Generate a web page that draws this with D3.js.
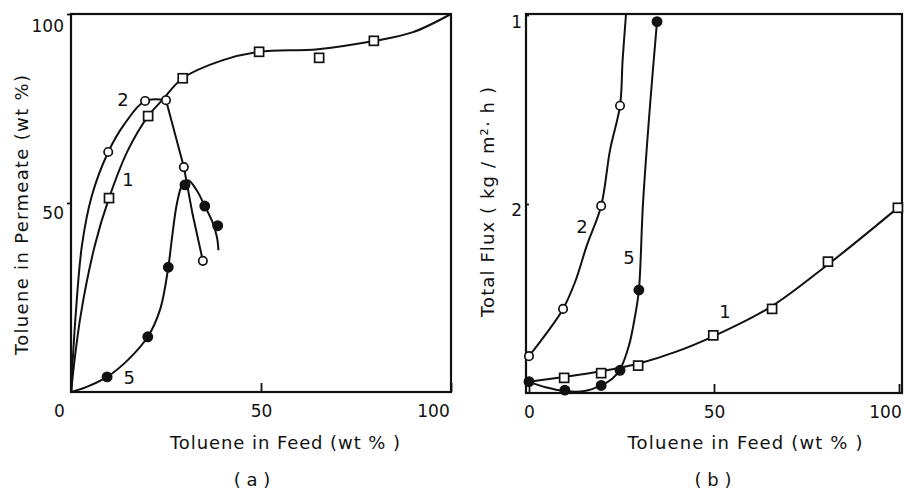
<!DOCTYPE html>
<html>
<head>
<meta charset="utf-8">
<script src="https://cdn.jsdelivr.net/npm/d3@7"></script>
<style>
  body { margin: 0; background: #fff; }
  text { font-family: "DejaVu Sans", sans-serif; fill: #111; }
</style>
</head>
<body>
<script>
var w = 904;
var h = 490;

// ---- panel (a): toluene in permeate vs toluene in feed ----
// measured points
const aFeed1 = [10, 20.3, 29.4, 49.5, 65.3, 79.7];
const aPerm1 = [51.3, 73, 83, 90, 88.4, 92.9];
const aFeed2 = [9.8, 19.5, 25, 29.7, 34.7];
const aPerm2 = [63.5, 77, 77.2, 59.5, 34.7];
const aFeed5 = [9.5, 20.2, 25.6, 30, 35.2, 38.6];
const aPerm5 = [4, 14.6, 33, 54.8, 49.2, 44];

// drawn curves
const aLine1 = [[0, 0], [2.5, 20], [6.3, 38.9], [10, 51.3], [15, 64], [20.3, 73], [24, 77.2],
                [29.4, 83], [40, 87.8], [49.5, 90], [65, 90.7], [80, 92.9], [90, 95.2], [100, 100]];
const aLine2Rise = [[0, 0], [1.2, 20], [2.9, 38.9], [5.5, 52], [9.8, 63.5], [14, 70.8], [19.5, 77], [25, 77.2]];
const aLine2Fall = [[25, 77.2], [29.7, 59.5], [32, 47], [34.7, 34.7]];
const aLine5 = [[0, 0], [4, 1.3], [9.5, 4], [15, 8.5], [20.2, 14.6], [23.5, 22], [25.6, 33],
                [26.6, 41], [27.9, 50], [29.2, 54.6], [30.8, 56], [33, 53.5], [35.2, 49.2],
                [37.2, 45], [38.4, 41], [38.8, 37.5]];

// ---- panel (b): total flux vs toluene in feed ----
const bFeed1 = [9.5, 19.5, 29.5, 49.8, 65.7, 80.8, 99.7];
const bFlux1 = [0.16, 0.21, 0.29, 0.61, 0.89, 1.39, 1.96];
const bFeed2 = [0, 9.2, 19.5, 24.6];
const bFlux2 = [0.39, 0.89, 1.98, 3.04];
const bFeed5 = [0, 9.7, 19.5, 24.6, 29.7, 34.6];
const bFlux5 = [0.12, 0.03, 0.08, 0.24, 1.09, 3.93];

const bLine1 = [[0, 0.12], [9.5, 0.17], [19.5, 0.23], [29.5, 0.31], [40, 0.44], [49.8, 0.6],
                [65.7, 0.92], [80.8, 1.36], [100, 1.97]];
const bLine2 = [[0, 0.39], [4.5, 0.62], [9.2, 0.89], [12.5, 1.18], [15.7, 1.57], [19.5, 1.98],
                [21.9, 2.57], [24.6, 3.04], [25.3, 3.52], [26.2, 4.0]];
const bLine5 = [[0, 0.12], [4.5, 0.06], [9.7, 0.02], [15, 0.02], [19.5, 0.08], [22.5, 0.15],
                [24.6, 0.25], [27, 0.5], [28.6, 0.8], [29.7, 1.09], [30.8, 2.0], [32.7, 3.04], [34.6, 3.93]];

// axes
const aXTicks = [0, 50, 100];
const aYTicks = [50, 100];
const bXTicks = [0, 50, 100];
const bYTicks = [2, 4];
const bYTickLabels = ["2", "1"];

var svg = d3.select("body").append("svg")
  .attr("width", w)
  .attr("height", h);

var lineW = 2;

// scales
var xa = d3.scaleLinear().domain([0, 100]).range([71, 451]);
var ya = d3.scaleLinear().domain([0, 100]).range([392, 14]);
var xb = d3.scaleLinear().domain([0, 100]).range([529, 899]);
var yb = d3.scaleLinear().domain([0, 4]).range([393, 15]);

function frame(x0, x1, y0, y1) {
  svg.append("rect")
    .attr("x", x0).attr("y", y1)
    .attr("width", x1 - x0).attr("height", y0 - y1)
    .attr("fill", "none")
    .attr("stroke", "#111")
    .attr("stroke-width", 2.2);
}

function drawAxes(x, y, xTicks, yTicks, yLabels, xShift, yShift) {
  var gx = svg.append("g")
    .attr("transform", "translate(0," + y.range()[0] + ")")
    .call(d3.axisBottom(x).tickValues(xTicks).tickSize(-9).tickPadding(0).tickFormat(d3.format("d")));
  gx.select(".domain").remove();
  gx.selectAll("line").attr("stroke", "#111").attr("stroke-width", 1.8);
  gx.selectAll("text")
    .attr("y", 19).attr("dy", "0.35em")
    .attr("font-size", 17)
    .attr("dx", function(d, i) { return xShift[i]; });

  var gy = svg.append("g")
    .attr("transform", "translate(" + x.range()[0] + ",0)")
    .call(d3.axisLeft(y).tickValues(yTicks).tickSize(4).tickPadding(3)
      .tickFormat(function(d, i) { return yLabels ? yLabels[i] : d; }));
  gy.select(".domain").remove();
  gy.selectAll("line").attr("stroke", "#111").attr("stroke-width", 1.8);
  gy.selectAll("text")
    .attr("font-size", 17)
    .attr("dy", function(d, i) { return yShift[i]; });
}

function curve(x, y, pts, type) {
  svg.append("path")
    .datum(pts)
    .attr("fill", "none")
    .attr("stroke", "#111")
    .attr("stroke-width", lineW)
    .attr("stroke-linejoin", "round")
    .attr("d", d3.line()
      .x(function(d) { return x(d[0]); })
      .y(function(d) { return y(d[1]); })
      .curve(type || d3.curveCatmullRom.alpha(0.5)));
}

function squares(x, y, xs, ys) {
  svg.append("g").selectAll("rect")
    .data(xs)
    .enter()
    .append("rect")
    .attr("x", function(d) { return x(d) - 4.5; })
    .attr("y", function(d, i) { return y(ys[i]) - 4.5; })
    .attr("width", 9).attr("height", 9)
    .attr("fill", "#fff")
    .attr("stroke", "#111")
    .attr("stroke-width", 1.7);
}

function circles(x, y, xs, ys, filled) {
  svg.append("g").selectAll("circle")
    .data(xs)
    .enter()
    .append("circle")
    .attr("cx", function(d) { return x(d); })
    .attr("cy", function(d, i) { return y(ys[i]); })
    .attr("r", filled ? 4.6 : 4.2)
    .attr("fill", filled ? "#111" : "#fff")
    .attr("stroke", "#111")
    .attr("stroke-width", 1.7);
}

function label(x, y, vx, vy, s) {
  svg.append("text")
    .attr("x", x(vx)).attr("y", y(vy))
    .attr("dy", "0.35em")
    .attr("text-anchor", "middle")
    .attr("font-size", 18)
    .text(s);
}

function title(tx, ty, rot, len, s) {
  svg.append("text")
    .attr("transform", "translate(" + tx + "," + ty + ")" + (rot ? " rotate(-90)" : ""))
    .attr("dy", "0.35em")
    .attr("text-anchor", "middle").attr("font-size", 18)
    .attr("textLength", len).attr("lengthAdjust", "spacing")
    .text(s);
}

// panel (a)
curve(xa, ya, aLine1);
curve(xa, ya, aLine2Rise);
curve(xa, ya, aLine2Fall, d3.curveLinear);
curve(xa, ya, aLine5);
frame(71, 451, 392, 14);
drawAxes(xa, ya, aXTicks, aYTicks, null, [-12, 0, -18], ["0.9em", "1.0em"]);
squares(xa, ya, aFeed1, aPerm1);
circles(xa, ya, aFeed2, aPerm2, false);
circles(xa, ya, aFeed5, aPerm5, true);
label(xa, ya, 13.7, 77.2, "2");
label(xa, ya, 15, 56.1, "1");
label(xa, ya, 15.3, 3.7, "5");

title(285, 443, false, 230, "Toluene in Feed (wt % )");
title(22, 215, true, 280, "Toluene in Permeate (wt %)");
svg.append("text")
  .attr("x", 252).attr("y", 480).attr("dy", "0.35em")
  .attr("text-anchor", "middle").attr("font-size", 18)
  .text("( a )");

// panel (b)
curve(xb, yb, bLine1, d3.curveMonotoneX);
curve(xb, yb, bLine2);
curve(xb, yb, bLine5);
frame(526, 902, 393, 14);
drawAxes(xb, yb, bXTicks, bYTicks, bYTickLabels, [0, 0, -14], ["0.65em", "0.75em"]);
squares(xb, yb, bFeed1, bFlux1);
circles(xb, yb, bFeed2, bFlux2, false);
circles(xb, yb, bFeed5, bFlux5, true);
label(xb, yb, 14.3, 1.76, "2");
label(xb, yb, 27, 1.43, "5");
label(xb, yb, 53, 0.86, "1");

title(745, 443, false, 235, "Toluene in Feed (wt % )");
title(488, 202, true, 230, "Total Flux ( kg / m²· h )");
svg.append("text")
  .attr("x", 713).attr("y", 480).attr("dy", "0.35em")
  .attr("text-anchor", "middle").attr("font-size", 18)
  .text("( b )");
</script>
</body>
</html>
